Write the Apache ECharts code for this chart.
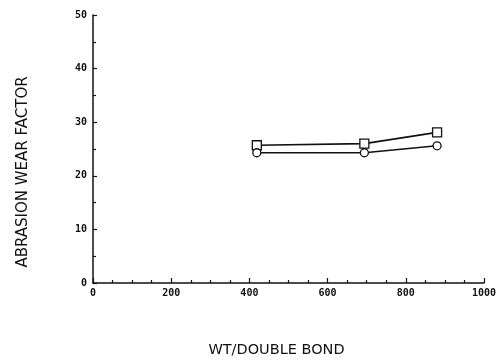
<!DOCTYPE html>
<html><head><meta charset="utf-8">
<script src="https://cdn.jsdelivr.net/npm/echarts@6/dist/echarts.min.js"></script>
<style>html,body{margin:0;padding:0;background:#fff}#c{width:498px;height:361px}</style>
</head><body><div id="c"></div>
<script>
const xValues = [419, 694, 880];
const squareSeries = [25.7, 26.0, 28.1];
const circleSeries = [24.3, 24.3, 25.6];
const xTitle = 'WT/DOUBLE BOND';
const yTitle = 'ABRASION WEAR FACTOR';

const chart = echarts.init(document.getElementById('c'));
const mono = 'DejaVu Sans Mono';
chart.setOption({
  backgroundColor: '#fff',
  animation: false,
  grid: { left: 93, right: 14, top: 15, bottom: 78, outerBoundsMode: 'none', containLabel: false },
  graphic: [{
    type: 'text', x: 23, y: 172, rotation: Math.PI / 2,
    style: { text: yTitle, fontFamily: 'DejaVu Sans', fontSize: 15, fill: '#111',
      textAlign: 'center', textVerticalAlign: 'middle' }
  }],
  xAxis: {
    type: 'value', min: 0, max: 1000, interval: 200,
    name: xTitle, nameLocation: 'middle', nameGap: 60,
    nameTextStyle: { fontFamily: 'DejaVu Sans', fontSize: 14.5, color: '#111', padding: [0, 24, 0, 0] },
    axisLine: { show: true, lineStyle: { color: '#111', width: 1.5 } },
    axisTick: { show: true, inside: true, length: 5, lineStyle: { color: '#111', width: 1.2 } },
    minorTick: { show: true, splitNumber: 4, length: 3, lineStyle: { color: '#111', width: 1.2 } },
    splitLine: { show: false },
    axisLabel: { fontFamily: mono, fontWeight: 'bold', fontSize: 10, color: '#111', margin: 5,
      formatter: v => String(v) }
  },
  yAxis: {
    type: 'value', min: 0, max: 50, interval: 10,
    axisLine: { show: true, lineStyle: { color: '#111', width: 1.5 } },
    axisTick: { show: true, inside: true, length: 4, lineStyle: { color: '#111', width: 1.2 } },
    minorTick: { show: true, splitNumber: 2, length: 3, lineStyle: { color: '#111', width: 1.2 } },
    splitLine: { show: false },
    axisLabel: { fontFamily: mono, fontWeight: 'bold', fontSize: 10, color: '#111', margin: 6,
      formatter: v => String(v) }
  },
  series: [
    {
      type: 'line', data: xValues.map((x, i) => [x, squareSeries[i]]),
      symbol: 'rect', symbolSize: 9, showAllSymbol: true,
      lineStyle: { color: '#111', width: 1.6 },
      itemStyle: { color: '#fff', borderColor: '#111', borderWidth: 1.3 }
    },
    {
      type: 'line', data: xValues.map((x, i) => [x, circleSeries[i]]),
      symbol: 'circle', symbolSize: 8, showAllSymbol: true,
      lineStyle: { color: '#111', width: 1.6 },
      itemStyle: { color: '#fff', borderColor: '#111', borderWidth: 1.3 }
    }
  ]
});
</script></body></html>
